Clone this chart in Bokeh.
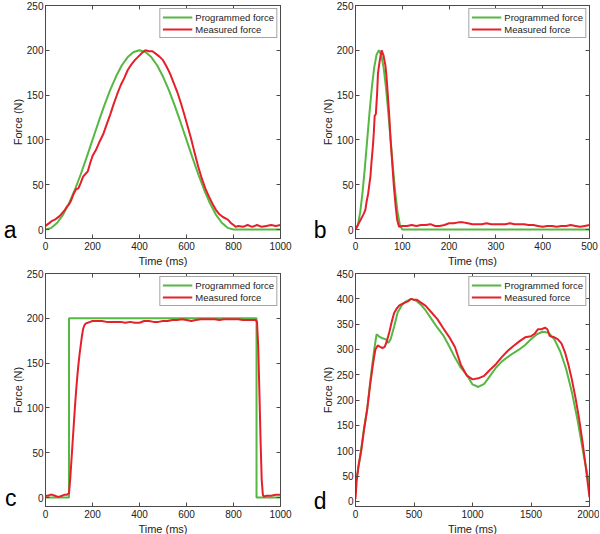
from bokeh.plotting import figure
from bokeh.models import Range1d, FixedTicker, LinearAxis
from bokeh.layouts import column, row
from bokeh.embed import file_html
from bokeh.resources import INLINE

# ---------------- data ----------------
# Panel a
a_prog_t = list(range(0, 825, 25)) + [850, 900, 950, 1000]
a_prog_f = [0, 1.9, 7.6, 16.7, 29.3, 44.4, 61.7, 80.5, 100, 119.5, 138.3, 155.6, 170.7, 183.3, 192.4, 198.1, 200,
            198.1, 192.4, 183.3, 170.7, 155.6, 138.3, 119.5, 100, 80.5, 61.7, 44.4, 29.3, 16.7, 7.6, 1.9, 0,
            0, 0, 0, 0]
a_meas_t = [0, 10, 20, 30, 40, 50, 60, 70, 80, 90, 100, 110, 120, 130, 140, 150, 160, 170, 180, 190, 200,
            215, 230, 245, 260, 275, 290, 305, 320, 335, 350, 365, 380, 395, 410, 425, 440, 455, 470, 485, 500,
            515, 530, 545, 560, 575, 590, 605, 620, 635, 650, 665, 680, 695, 710, 725, 740, 755, 770, 780, 790,
            800, 810, 820, 840, 860, 880, 900, 920, 940, 960, 980, 1000]
a_meas_f = [4, 6, 8, 10, 11, 13, 15, 18, 21, 25, 28, 33, 40, 45, 46, 52, 59, 62, 65, 74, 82,
            89, 98, 106, 117, 128, 140, 151, 161, 169, 178, 184, 189, 193, 197, 200, 199, 199, 196, 193, 189,
            182, 174, 164, 154, 142, 129, 115, 101, 85, 70, 57, 46, 37, 29, 22, 17, 14, 12, 10, 7,
            5, 3, 4, 3, 5, 3, 5, 3, 4, 5, 4, 5]

# Panel b
b_prog_t = list(range(0, 105, 5)) + [500]
b_prog_f = [0, 4.9, 19.1, 41.2, 69.1, 100, 130.9, 158.8, 180.9, 195.1, 200,
            195.1, 180.9, 158.8, 130.9, 100, 69.1, 41.2, 19.1, 4.9, 0, 0]
b_meas_t = [0, 4, 8, 11, 15, 18, 21, 24, 27, 29, 32, 34, 37, 39, 41, 43.5, 46, 48, 50, 52,
            54, 56, 58, 60, 62, 64, 66, 69, 72, 75, 78, 82, 86, 89, 93, 100] + list(range(110, 510, 10))
b_meas_f = [0, 4, 8, 11, 15, 18, 22, 32, 40, 48, 60, 74, 92, 107, 127, 129, 150, 174, 182, 189,
            195, 200, 197, 194, 188, 183, 172, 151, 128, 100, 78, 48, 25, 11, 3, 4,
            4, 5, 4, 5, 5, 6, 4, 4, 5, 7, 7, 8, 8, 7, 6, 6, 6, 7, 6, 6,
            6, 6, 7, 6, 6, 6, 5, 5, 4, 3, 4, 4, 3, 4, 4, 5, 4, 3, 4, 5]

# Panel c
c_prog_t = [0, 100, 100, 898, 898, 1000]
c_prog_f = [0, 0, 200, 200, 0, 0]
c_meas_t = [0, 10, 20, 30, 40, 50, 60, 70, 80, 90, 95, 100, 105, 110, 115, 120, 125, 130, 135, 140, 145,
            150, 155, 160, 165, 170, 180, 190, 200, 220, 240, 260, 280, 300, 320, 340, 360, 380, 400, 420,
            440, 460, 480, 500, 520, 540, 560, 580, 600, 620, 640, 660, 680, 700, 720, 740, 760, 780, 800,
            820, 840, 860, 880, 895, 900, 905, 910, 915, 920, 925, 930, 940, 960, 980, 1000]
c_meas_f = [2, 2, 3, 3, 2, 1, 1, 2, 3, 3, 4, 5, 20, 40, 60, 80, 100, 118, 134, 148, 160,
            170, 180, 188, 192, 194, 195, 196, 197, 197, 197, 196, 196, 196, 196, 195, 196, 195, 195, 197,
            197, 196, 196, 197, 197, 198, 198, 199, 198, 197, 198, 199, 199, 199, 199, 198, 199, 199, 199,
            199, 198, 198, 198, 198, 196, 170, 120, 65, 20, 3, 1, 2, 2, 3, 3]

# Panel d
d_prog_t = [0, 20, 40, 70, 100, 130, 160, 180, 200, 230, 260, 280, 300, 330, 360, 400, 440, 480, 520, 560,
            600, 650, 700, 750, 800, 850, 900, 950, 1000, 1050, 1100, 1150, 1200, 1250, 1300, 1350, 1400,
            1450, 1500, 1550, 1600, 1650, 1700, 1750, 1800, 1850, 1900, 1950, 2000]
d_prog_f = [35, 60, 88, 140, 182, 245, 300, 330, 326, 322, 320, 313, 320, 345, 373, 389, 396, 400, 396, 388,
            377, 360, 343, 328, 307, 284, 264, 250, 231, 226, 232, 248, 264, 276, 285, 293, 300,
            309, 320, 330, 335, 333, 320, 296, 262, 215, 158, 92, 31]
d_meas_t = [0, 10, 25, 50, 75, 100, 125, 150, 170, 190, 210, 230, 250, 270, 290, 310, 330, 350, 375, 400,
            425, 450, 475, 500, 525, 550, 575, 600, 650, 700, 750, 800, 850, 900, 950, 1000, 1050, 1100,
            1150, 1200, 1250, 1300, 1350, 1400, 1450, 1500, 1530, 1560, 1590, 1620, 1640, 1660, 1680, 1700,
            1730, 1760, 1790, 1820, 1850, 1880, 1910, 1940, 1970, 2000]
d_meas_f = [5, 40, 70, 102, 145, 182, 230, 272, 300, 308, 305, 303, 305, 318, 335, 355, 372, 380, 387, 390,
            393, 395, 400, 398, 398, 394, 390, 386, 373, 360, 342, 325, 305, 270, 249, 241, 243, 248,
            260, 271, 285, 297, 307, 316, 324, 326, 331, 340, 340, 343, 340, 327, 325, 324,
            320, 312, 295, 270, 240, 205, 165, 118, 65, 8]

x_ticks_a = [0, 200, 400, 600, 800, 1000]
x_ticks_b = [0, 100, 200, 300, 400, 500]
x_ticks_d = [0, 500, 1000, 1500, 2000]
y_ticks_abc = [0, 50, 100, 150, 200, 250]
y_ticks_d = [0, 50, 100, 150, 200, 250, 300, 350, 400, 450]

GREEN = "#55b843"
RED = "#e5202a"
AX = "#4a4a4a"
FONT = "Liberation Sans"


def panel(letter, pt, pf, mt, mf, xr, yr, xt, yt, fw, fh, bl, br, bt, bb):
    p = figure(frame_width=fw, frame_height=fh, output_backend="svg", toolbar_location=None,
               x_range=Range1d(*xr), y_range=Range1d(*yr),
               min_border_left=bl, min_border_right=br, min_border_top=bt, min_border_bottom=bb)
    p.xgrid.visible = False
    p.ygrid.visible = False
    p.outline_line_color = AX
    p.background_fill_color = "white"
    p.border_fill_color = "white"
    p.line(pt, pf, color=GREEN, line_width=2, legend_label="Programmed force")
    p.line(mt, mf, color=RED, line_width=2, legend_label="Measured force")

    p.xaxis.ticker = FixedTicker(ticks=xt)
    p.yaxis.ticker = FixedTicker(ticks=yt)
    p.xaxis.axis_label = "Time (ms)"
    p.yaxis.axis_label = "Force (N)"
    for ax in p.xaxis + p.yaxis:
        ax.axis_line_color = AX
        ax.major_tick_line_color = AX
        ax.major_tick_in = 4
        ax.major_tick_out = 0
        ax.minor_tick_in = 0
        ax.minor_tick_out = 0
        ax.minor_tick_line_color = None
        ax.major_label_text_font = FONT
        ax.major_label_text_font_size = "10px"
        ax.major_label_text_color = "#222222"
        ax.axis_label_text_font = FONT
        ax.axis_label_text_font_size = "11px"
        ax.axis_label_text_font_style = "normal"
        ax.axis_label_text_color = "#222222"
    for ax in p.xaxis:
        ax.major_label_standoff = 3
        ax.axis_label_standoff = 2
    for ax in p.yaxis:
        ax.major_label_standoff = 2
        ax.axis_label_standoff = 0

    for loc, ticks in (("right", yt), ("above", xt)):
        ax = LinearAxis(ticker=FixedTicker(ticks=ticks), major_label_text_font_size="0px",
                        major_label_text_color=None,
                        major_tick_in=4, major_tick_out=0, minor_tick_in=0, minor_tick_out=0,
                        minor_tick_line_color=None,
                        axis_line_color=AX, major_tick_line_color=AX, major_label_standoff=0)
        p.add_layout(ax, loc)

    lg = p.legend[0]
    lg.location = "top_right"
    lg.border_line_color = AX
    lg.border_line_width = 1
    lg.background_fill_alpha = 1
    lg.label_text_font = FONT
    lg.label_text_font_size = "9.5px"
    lg.label_text_color = "#222222"
    lg.label_height = 12
    lg.glyph_height = 12
    lg.glyph_width = 30
    lg.label_standoff = 3
    lg.spacing = 0
    lg.padding = 2
    lg.margin = 3

    # panel letter, drawn as the single label of an outer left axis at y = 0
    ax = LinearAxis(ticker=FixedTicker(ticks=[0]), major_label_overrides={0: letter},
                    major_label_text_font=FONT, major_label_text_font_size="23px",
                    major_label_text_color="black", major_label_text_baseline="alphabetic",
                    axis_line_color=None, major_tick_line_color=None, minor_tick_line_color=None,
                    major_tick_in=0, major_tick_out=0, minor_tick_in=0, minor_tick_out=0,
                    major_label_standoff=-8)
    p.add_layout(ax, "left")
    return p


pa = panel("a", a_prog_t, a_prog_f, a_meas_t, a_meas_f, (0, 1000), (-10, 250), x_ticks_a, y_ticks_abc,
           235, 233, 45, 20, 5, 29)
pb = panel("b", b_prog_t, b_prog_f, b_meas_t, b_meas_f, (0, 500), (-10, 250), x_ticks_b, y_ticks_abc,
           234, 233, 55, 10, 5, 29)
pc = panel("c", c_prog_t, c_prog_f, c_meas_t, c_meas_f, (0, 1000), (-10, 250), x_ticks_a, y_ticks_abc,
           235, 233, 45, 20, 4, 30)
pd = panel("d", d_prog_t, d_prog_f, d_meas_t, d_meas_f, (0, 2000), (-10, 450), x_ticks_d, y_ticks_d,
           234, 233, 55, 10, 4, 30)

layout = column(row(pa, pb), row(pc, pd))
open("out.html", "w").write(file_html(layout, INLINE))
